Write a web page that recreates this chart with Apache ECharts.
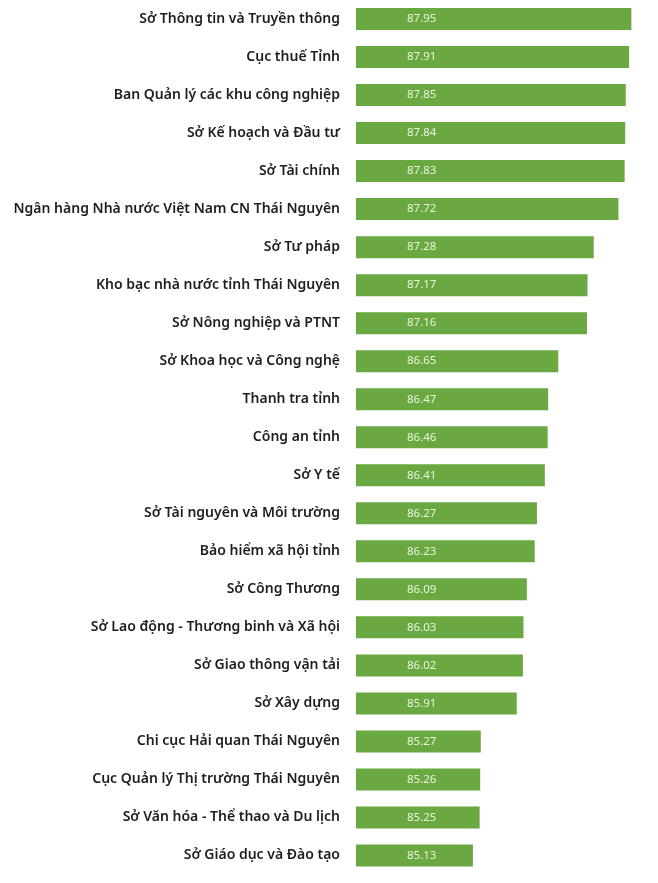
<!DOCTYPE html>
<html><head><meta charset="utf-8">
<script src="https://cdn.jsdelivr.net/npm/echarts@6/dist/echarts.min.js"></script>
<style>html,body{margin:0;padding:0;background:#fff}#c{width:658px;height:883px}</style>
</head><body><div id="c"></div>
<script>
const categories = [
"Sở Thông tin và Truyền thông","Cục thuế Tỉnh","Ban Quản lý các khu công nghiệp","Sở Kế hoạch và Đầu tư","Sở Tài chính",
"Ngân hàng Nhà nước Việt Nam CN Thái Nguyên","Sở Tư pháp","Kho bạc nhà nước tỉnh Thái Nguyên","Sở Nông nghiệp và PTNT",
"Sở Khoa học và Công nghệ","Thanh tra tỉnh","Công an tỉnh","Sở Y tế","Sở Tài nguyên và Môi trường","Bảo hiểm xã hội tỉnh",
"Sở Công Thương","Sở Lao động - Thương binh và Xã hội","Sở Giao thông vận tải","Sở Xây dựng","Chi cục Hải quan Thái Nguyên",
"Cục Quản lý Thị trường Thái Nguyên","Sở Văn hóa - Thể thao và Du lịch","Sở Giáo dục và Đào tạo"];
const values = [87.95,87.91,87.85,87.84,87.83,87.72,87.28,87.17,87.16,86.65,86.47,86.46,86.41,86.27,86.23,86.09,86.03,86.02,85.91,85.27,85.26,85.25,85.13];

const chart = echarts.init(document.getElementById('c'));
chart.setOption({
  animation:false,
  grid:{left:356,top:-1.5,width:281,height:876,containLabel:false},
  xAxis:{type:'value',min:83.05,max:88.05,show:false},
  yAxis:{type:'category',data:categories,inverse:true,
    axisLine:{show:false},axisTick:{show:false},
    axisLabel:{margin:16,color:'#1e1e1e',fontFamily:'Noto Sans',fontWeight:600,fontSize:14}},
  series:[{type:'bar',data:values,barWidth:22,
    itemStyle:{color:'#6aa842'},
    label:{show:true,position:'insideLeft',offset:[46,0],color:'#eaf4e0',fontFamily:'Noto Sans',fontSize:11.5,
      formatter:p=>p.value.toFixed(2)}}]
});
</script></body></html>
